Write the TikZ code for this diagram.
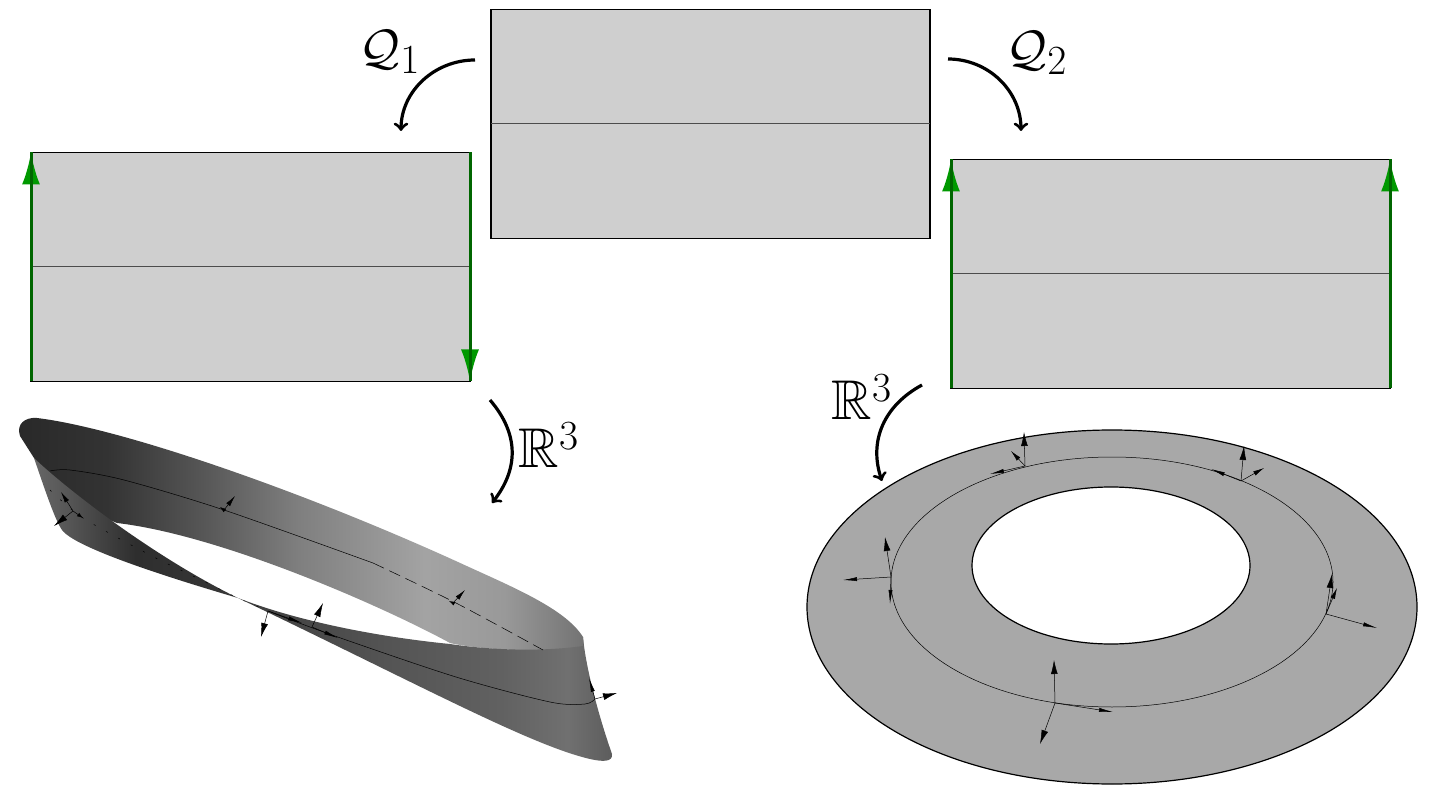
\documentclass[tikz,border=0pt]{standalone}
\usepackage{amssymb}
\usepackage{amsmath}
\usetikzlibrary{arrows.meta}
\definecolor{sheetgray}{gray}{0.81}
\definecolor{ringgray}{gray}{0.66}
\definecolor{edgegreen}{rgb}{0,0.4,0}
\definecolor{tipgreen}{rgb}{0,0.6,0}
\pgfdeclarehorizontalshading{backband}{100bp}{gray(0bp)=(0.16);gray(25bp)=(0.16);gray(33bp)=(0.2);gray(41bp)=(0.33);gray(50bp)=(0.5);gray(61bp)=(0.64);gray(68bp)=(0.6);gray(75bp)=(0.45);gray(100bp)=(0.45)}
\pgfdeclarehorizontalshading{twistband}{100bp}{gray(0bp)=(0.4);gray(25bp)=(0.4);gray(33bp)=(0.34);gray(50bp)=(0.18);gray(75bp)=(0.22);gray(100bp)=(0.22)}
\pgfdeclarehorizontalshading{frontband}{100bp}{gray(0bp)=(0.24);gray(25bp)=(0.24);gray(45bp)=(0.33);gray(60bp)=(0.38);gray(69bp)=(0.44);gray(75bp)=(0.36);gray(100bp)=(0.36)}
\tikzstyle{sheet}=[rectangle,draw,fill=sheetgray,line width=0.6pt,minimum width=219.5pt,minimum height=114.5pt,inner sep=0pt,outer sep=0pt]
\tikzstyle{midline}=[gray!60!black,line width=0.5pt]
\tikzstyle{glue}=[-{Latex[length=16pt,width=9pt,color=tipgreen]},edgegreen,line width=1.5pt]
\tikzstyle{gluecore}=[edgegreen,line width=1.5pt]
\tikzstyle{maparrow}=[->,line width=1.6pt,>=to]
\tikzstyle{vec}=[-{Latex[length=7pt,width=3.4pt]},line width=0.25pt]
\tikzstyle{tangent}=[-{Latex[length=7pt,width=2pt]},line width=0.25pt]
\tikzstyle{shortvec}=[-{Latex[length=5.5pt,width=2.4pt]},line width=0.25pt]
\tikzstyle{tinyvec}=[-{Latex[length=3pt,width=2pt]},line width=0.25pt]
\tikzstyle{core}=[line width=0.25pt]
\tikzstyle{qlabel}=[inner sep=0pt,font=\fontsize{31}{37}\selectfont]
\tikzstyle{rlabel}=[inner sep=0pt,font=\fontsize{28}{34}\selectfont]

\begin{document}
\begin{tikzpicture}[x=0.5pt,y=-0.5pt]
  \useasboundingbox (0,0) rectangle (1434,807);

  \node[sheet] (T) at (710.5,124) {};
  \node[sheet] (L) at (250.5,267) {};
  \node[sheet] (R) at (1170.5,274) {};

  \draw[midline] (T.west)--(T.east);
  \draw[midline] (L.west)--(L.east);
  \draw[midline] (R.west)--(R.east);

  % les bords
  \draw[glue] (L.south west)--(L.north west);
  \draw[glue] (L.north east)--(L.south east);
  \draw[glue] (R.south west)--(R.north west);
  \draw[glue] (R.south east)--(R.north east);
  \draw[gluecore] (L.south west)--(L.north west);
  \draw[gluecore] (L.north east)--(L.south east);
  \draw[gluecore] (R.south west)--(R.north west);
  \draw[gluecore] (R.south east)--(R.north east);

  % les fleches
  \coordinate (q1a) at (475,60); \coordinate (q1b) at (401,131);
  \coordinate (q2a) at (948,59); \coordinate (q2b) at (1021,131);
  \coordinate (r1a) at (490,400); \coordinate (r1b) at (492,503);
  \coordinate (r2a) at (922,385); \coordinate (r2b) at (882,481);
  \draw[maparrow] (q1a) to[out=180,in=90] (q1b);
  \draw[maparrow] (q2a) to[out=0,in=90] (q2b);
  \draw[maparrow] (r1a) .. controls (520,435) and (518,470) .. (r1b);
  \draw[maparrow] (r2a) .. controls (885,405) and (868,440) .. (r2b);
  \node[qlabel] (q1) at (390,52) {$\mathcal{Q}_1$};
  \node[qlabel] (q2) at (1037,53) {$\mathcal{Q}_2$};
  \node[rlabel] (r1) at (549,445) {$\mathbb{R}^3$};
  \node[rlabel] (r2) at (862,397) {$\mathbb{R}^3$};

  % le ruban
  \shade[shading=backband] (20,436) .. controls (16,424) and (25,417) .. (37,418)
    .. controls (120,428) and (300,490) .. (458,562)
    .. controls (510,586) and (565,608) .. (583,637)
    -- (584,650) .. controls (540,652) and (480,650) .. (450,643)
    .. controls (380,605) and (220,535) .. (117,523) -- (60,500) -- (34,458) -- cycle;
  \shade[shading=twistband] (34,458) .. controls (62,485) and (150,555) .. (238,598)
    .. controls (170,578) and (75,548) .. (62,530)
    .. controls (55,520) and (45,490) .. (34,458) -- cycle;
  \shade[shading=frontband] (238,598) .. controls (300,622) and (380,637) .. (450,644)
    .. controls (490,650) and (540,652) .. (583,646) -- (583,637)
    .. controls (586,670) and (600,720) .. (612,754)
    .. controls (613,762) and (603,762) .. (590,759)
    .. controls (530,745) and (420,685) .. (238,598) -- cycle;

  \draw[core] plot[smooth] coordinates {(50,471) (70,470) (124,480) (224,510) (373,563)};
  \draw[core,dash pattern=on 6pt off 3pt] plot[smooth] coordinates {(373,563) (456,603) (543,650)};
  \draw[core,dash pattern=on 1pt off 6pt] plot[smooth] coordinates {(50,490) (83,518) (150,555) (195,577) (238,598) (268,611)};
  \draw[core] plot[smooth] coordinates {(268,611) (332,635) (456,677) (550,702) (585,704) (595,699)};

  \coordinate (m1) at (224,510); \coordinate (m1u) at (235,496); \coordinate (m1t) at (220,507);
  \coordinate (m2) at (453,603); \coordinate (m2u) at (465,590); \coordinate (m2t) at (449,601);
  \coordinate (m3) at (268,611); \coordinate (m3d) at (261,637); \coordinate (m3t) at (302,623);
  \coordinate (m4) at (312,627); \coordinate (m4u) at (323,603); \coordinate (m4t) at (338,638);
  \coordinate (m5) at (73,511); \coordinate (m5d) at (54,526); \coordinate (m5u) at (61,492); \coordinate (m5t) at (83,518);
  \coordinate (m6) at (595,699); \coordinate (m6r) at (617,693); \coordinate (m6u) at (589,678);
  \draw[shortvec] (m1)--(m1u); \draw[tinyvec] (m1)--(m1t);
  \draw[shortvec] (m2)--(m2u); \draw[tinyvec] (m2)--(m2t);
  \draw[vec] (m3)--(m3d); \draw[tangent] (m3)--(m3t);
  \draw[vec] (m4)--(m4u); \draw[tangent] (m4)--(m4t);
  \draw[vec] (m5)--(m5d); \draw[shortvec] (m5)--(m5u); \draw[tinyvec] (m5)--(m5t);
  \draw[vec] (m6)--(m6r); \draw[tangent] (m6)--(m6u);

  % l'anneau
  \path[fill=ringgray,even odd rule] (1112,607) ellipse [x radius=305,y radius=177] (1111,565.5) ellipse [x radius=139,y radius=78.5];
  \draw[line width=0.6pt] (1112,607) ellipse [x radius=305,y radius=177];
  \draw[line width=0.6pt] (1111,565.5) ellipse [x radius=139,y radius=78.5];
  \draw[core] (1112,582) ellipse [x radius=221,y radius=125];

  \coordinate (a) at (1025,466); \coordinate (a1) at (1024,432); \coordinate (a2) at (1011,451); \coordinate (a3) at (990,474);
  \coordinate (b) at (1241,481); \coordinate (b1) at (1244,446); \coordinate (b2) at (1264,468); \coordinate (b3) at (1211,469);
  \coordinate (c) at (891,577); \coordinate (c1) at (885,537); \coordinate (c2) at (843,580); \coordinate (c3) at (890,604);
  \coordinate (d) at (1326,614); \coordinate (d1) at (1377,628); \coordinate (d2) at (1332,574); \coordinate (d3) at (1337,588);
  \coordinate (e) at (1055,703); \coordinate (e1) at (1054,660); \coordinate (e2) at (1040,744); \coordinate (e3) at (1113,712);
  \draw[vec] (a)--(a1); \draw[shortvec] (a)--(a2); \draw[tangent] (a)--(a3);
  \draw[vec] (b)--(b1); \draw[shortvec] (b)--(b2); \draw[tangent] (b)--(b3);
  \draw[vec] (c)--(c1); \draw[tangent] (c)--(c2); \draw[tangent] (c)--(c3);
  \draw[tangent] (d)--(d1); \draw[vec] (d)--(d2); \draw[shortvec] (d)--(d3);
  \draw[vec] (e)--(e1); \draw[vec] (e)--(e2); \draw[tangent] (e)--(e3);

\end{tikzpicture}
\end{document}
